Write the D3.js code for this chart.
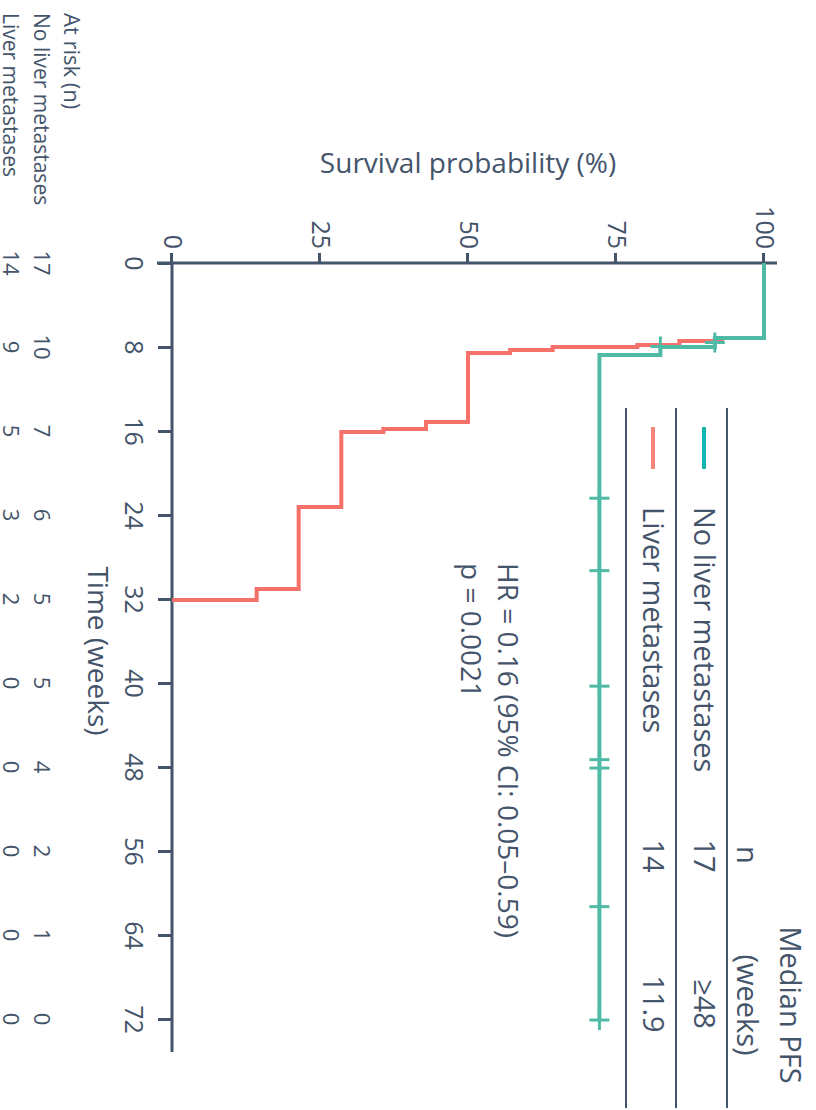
<!DOCTYPE html>
<html>
<head>
<meta charset="utf-8">
<script src="https://cdn.jsdelivr.net/npm/d3@7"></script>
<style>
  body { margin: 0; background: #fff; }
  svg { display: block; }
</style>
</head>
<body>
<div id="chart"></div>
<script>
// Kaplan-Meier PFS by liver metastases, drawn on its side (rotated 90deg clockwise)
const timeTicks = [0, 8, 16, 24, 32, 40, 48, 56, 64, 72];
const survTicks = [0, 25, 50, 75, 100];

const riskNoLiver = [17, 10, 7, 6, 5, 5, 4, 2, 1, 0];
const riskLiver = [14, 9, 5, 3, 2, 0, 0, 0, 0, 0];

// step points: time (weeks), survival (%)
const noLiverTime = [0, 7.14, 8.0, 8.76, 72.1];
const noLiverSurv = [100, 91.7, 82.5, 72.2, 72.2];
const noLiverCensTime = [7.57, 7.95, 22.4, 29.3, 40.3, 47.3, 48.1, 61.3, 72.1];
const noLiverCensSurv = [91.7, 82.5, 72.2, 72.2, 72.2, 72.2, 72.2, 72.2, 72.2];

const liverTime = [0, 7.14, 7.43, 7.81, 8.0, 8.29, 8.57, 15.14, 15.8, 16.1, 23.24, 31.05, 32.1];
const liverSurv = [100, 92.9, 85.7, 78.6, 64.3, 57.1, 50.0, 42.9, 35.7, 28.6, 21.4, 14.3, 0];

const groupNames = ['No liver metastases', 'Liver metastases'];
const groupN = ['17', '14'];
const groupMedian = ['\u226548', '11.9'];
const hrLines = ['HR = 0.16 (95% CI: 0.05\u20130.59)', 'p = 0.0021'];

const W = 816, H = 1110;
const INK = '#44546a';
const TEAL = '#4fbba6';
const RED = '#f5716a';
const TEAL_KEY = '#14b6b1';
const RED_KEY = '#f9857a';
const FONT = '"Open Sans", "Noto Sans", sans-serif';

const svg = d3.select('#chart').append('svg')
    .attr('width', W)
    .attr('height', H)
    .style('background', '#fff');

// everything is laid out in the unrotated frame, then turned 90deg
const g = svg.append('g')
    .attr('transform', 'translate(' + W + ',0) rotate(90)')
    .style('font-family', FONT)
    .attr('fill', INK);

const x = d3.scaleLinear().domain([0, 72]).range([263, 1019]);
const y = d3.scaleLinear().domain([0, 100]).range([644, 52]);

// axes
const xAxis = g.append('g')
    .attr('transform', 'translate(0,' + y(0) + ')')
    .call(d3.axisBottom(x).tickValues(timeTicks).tickSize(14).tickPadding(15));
xAxis.select('.domain').remove();
xAxis.selectAll('line').attr('stroke', INK).attr('stroke-width', 3);
xAxis.selectAll('text').attr('fill', INK).style('font-size', '25px').style('font-family', FONT);
xAxis.append('line')
    .attr('x1', x(0)).attr('x2', x(72) + 33)
    .attr('stroke', INK).attr('stroke-width', 3);

const yAxis = g.append('g')
    .attr('transform', 'translate(' + x(0) + ',0)')
    .call(d3.axisLeft(y).tickValues(survTicks).tickSize(10).tickPadding(4));
yAxis.select('.domain').remove();
yAxis.selectAll('line').attr('stroke', INK).attr('stroke-width', 3);
yAxis.selectAll('text').attr('fill', INK).style('font-size', '25px').style('font-family', FONT);
yAxis.append('line')
    .attr('y1', y(0) + 15).attr('y2', y(100) - 13)
    .attr('stroke', INK).attr('stroke-width', 3);

// axis titles
g.append('text')
    .attr('transform', 'translate(173,' + ((y(0) + y(100)) / 2) + ') rotate(-90)')
    .attr('text-anchor', 'middle')
    .style('font-size', '28px')
    .text('Survival probability (%)');

g.append('text')
    .attr('x', (x(0) + x(72)) / 2 + 10)
    .attr('y', 728)
    .attr('text-anchor', 'middle')
    .style('font-size', '28px')
    .text('Time (weeks)');

// curves
const step = d3.line()
    .x(d => x(d[0]))
    .y(d => y(d[1]))
    .curve(d3.curveStepAfter);

g.append('path')
    .datum(d3.zip(liverTime, liverSurv))
    .attr('d', step)
    .attr('fill', 'none')
    .attr('stroke', RED)
    .attr('stroke-width', 4);

g.append('path')
    .datum(d3.zip(noLiverTime, noLiverSurv))
    .attr('d', step)
    .attr('fill', 'none')
    .attr('stroke', TEAL)
    .attr('stroke-width', 4);

// censor marks (+)
const cens = g.append('g').attr('stroke', TEAL).attr('stroke-width', 3);
d3.zip(noLiverCensTime, noLiverCensSurv).forEach(function(d) {
    const cx = x(d[0]), cy = y(d[1]);
    cens.append('line').attr('x1', cx).attr('x2', cx).attr('y1', cy - 10).attr('y2', cy + 10);
    cens.append('line').attr('x1', cx - 10).attr('x2', cx + 10).attr('y1', cy).attr('y2', cy);
});

// HR annotation
g.selectAll('text.hr').data(hrLines).join('text')
    .attr('class', 'hr')
    .attr('x', 563)
    .attr('y', (d, i) => 318 + i * 37)
    .style('font-size', '28px')
    .text(d => d);

// legend table
const rowLines = [89, 140, 190];
g.selectAll('line.rule').data(rowLines).join('line')
    .attr('class', 'rule')
    .attr('x1', 408).attr('x2', 1108)
    .attr('y1', d => d).attr('y2', d => d)
    .attr('stroke', INK).attr('stroke-width', 2);

const rowBase = [122, 173];
const keyCols = [TEAL_KEY, RED_KEY];
groupNames.forEach(function(name, i) {
    g.append('line')
        .attr('x1', 427).attr('x2', 469)
        .attr('y1', rowBase[i] - 10).attr('y2', rowBase[i] - 10)
        .attr('stroke', keyCols[i]).attr('stroke-width', 4);
    g.append('text').attr('x', 507).attr('y', rowBase[i])
        .style('font-size', '29px').text(name);
    g.append('text').attr('x', 856).attr('y', rowBase[i])
        .attr('text-anchor', 'middle').style('font-size', '29px').text(groupN[i]);
    g.append('text').attr('x', 1004).attr('y', rowBase[i])
        .attr('text-anchor', 'middle').style('font-size', '29px').text(groupMedian[i]);
});

g.append('text').attr('x', 855).attr('y', 79)
    .attr('text-anchor', 'middle').style('font-size', '29px').text('n');
g.append('text').attr('x', 1005).attr('y', 36)
    .attr('text-anchor', 'middle').style('font-size', '29px').text('Median PFS');
g.append('text').attr('x', 1005).attr('y', 79)
    .attr('text-anchor', 'middle').style('font-size', '29px').text('(weeks)');

// at-risk table
g.append('text').attr('x', 13).attr('y', 752)
    .style('font-size', '22px').text('At risk (n)');

const riskRows = [riskNoLiver, riskLiver];
const riskBase = [782, 813];
riskRows.forEach(function(row, i) {
    g.append('text').attr('x', 13).attr('y', riskBase[i])
        .style('font-size', '21px').text(groupNames[i]);
    g.selectAll('text.risk' + i).data(row).join('text')
        .attr('class', 'risk' + i)
        .attr('x', (d, j) => x(timeTicks[j]))
        .attr('y', riskBase[i])
        .attr('text-anchor', 'middle')
        .style('font-size', '22px')
        .text(d => d);
});
</script>
</body>
</html>
